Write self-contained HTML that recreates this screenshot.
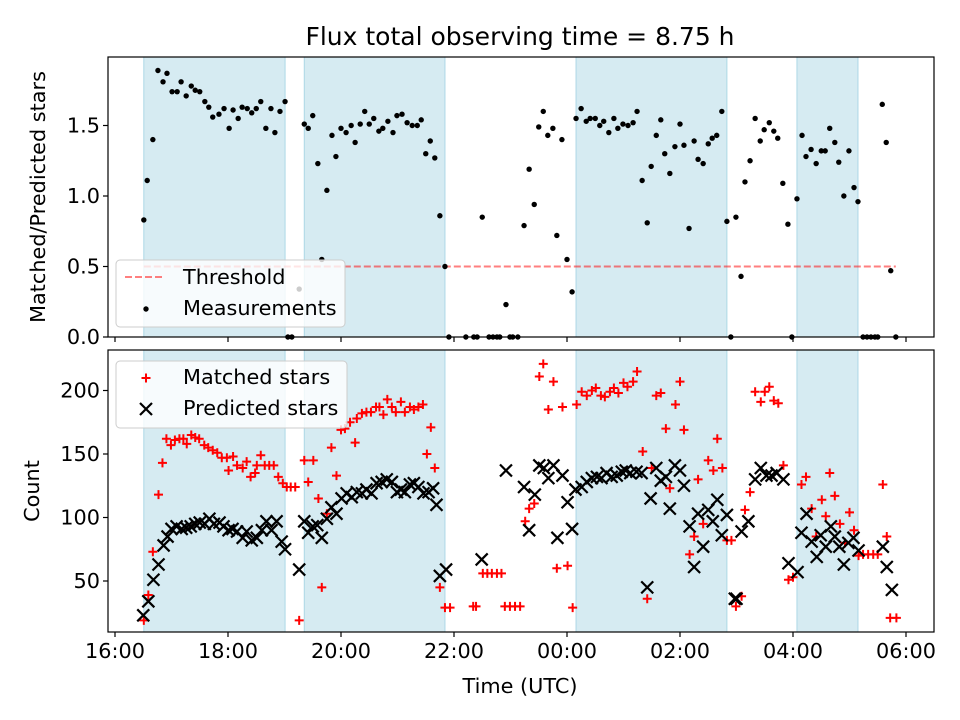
<!DOCTYPE html>
<html><head><meta charset="utf-8"><style>
html,body{margin:0;padding:0;background:#fff}
svg{display:block;font-family:"DejaVu Sans","Liberation Sans",sans-serif}
</style></head><body>
<svg id="chart" width="960" height="720" viewBox="0 0 960 720">
<rect width="960" height="720" fill="#fff"/>
<g id="topPanel"></g>
<g id="botPanel"></g>
<text x="520" y="45" font-size="25" text-anchor="middle">Flux total observing time = 8.75 h</text>
<text x="520" y="693" font-size="20.8" text-anchor="middle">Time (UTC)</text>
<text transform="translate(45,197) rotate(-90)" font-size="20.8" text-anchor="middle">Matched/Predicted stars</text>
<text transform="translate(39,491) rotate(-90)" font-size="20.8" text-anchor="middle">Count</text>
</svg>
<script>
// hours since 16:00 UTC
const spanStart = [0.51, 3.35, 8.16, 12.07];
const spanEnd = [3.01, 5.84, 10.83, 13.15];
const xTickHours = [0, 2, 4, 6, 8, 10, 12, 14];
const xTickLabels = ["16:00","18:00","20:00","22:00","00:00","02:00","04:00","06:00"];
const ratioTicks = [0.0, 0.5, 1.0, 1.5];
const ratioTickLabels = ["0.0","0.5","1.0","1.5"];
const countTicks = [50, 100, 150, 200];
const threshold = 0.5;
const thresholdStart = 0.51, thresholdEnd = 13.82;
const ratioT = [.51,.57,.67,.76,.85,.92,1.01,1.10,1.17,1.26,1.35,1.42,1.50,1.59,1.66,1.73,1.84,1.93,2.02,2.09,2.18,2.25,2.34,2.42,2.50,2.58,2.67,2.76,2.83,2.92,3.01,3.06,3.13,3.26,3.35,3.42,3.50,3.59,3.66,3.75,3.84,3.91,4.00,4.09,4.18,4.25,4.34,4.42,4.50,4.58,4.67,4.74,4.83,4.92,4.99,5.08,5.17,5.26,5.35,5.42,5.50,5.58,5.66,5.75,5.84,5.91,6.21,6.35,6.41,6.50,6.62,6.69,6.76,6.81,6.92,6.99,7.04,7.13,7.24,7.33,7.42,7.50,7.58,7.66,7.75,7.82,7.91,8.00,8.09,8.16,8.25,8.34,8.41,8.50,8.58,8.65,8.74,8.83,8.90,8.99,9.08,9.17,9.24,9.33,9.42,9.49,9.58,9.66,9.73,9.82,9.91,10.00,10.07,10.16,10.25,10.32,10.41,10.50,10.57,10.65,10.74,10.83,10.90,10.99,11.08,11.15,11.24,11.33,11.42,11.49,11.58,11.66,11.73,11.82,11.91,11.98,12.07,12.16,12.23,12.32,12.41,12.50,12.57,12.65,12.74,12.81,12.90,12.99,13.08,13.15,13.24,13.31,13.38,13.45,13.50,13.58,13.65,13.73,13.82];
const ratioV = [.83,1.11,1.40,1.89,1.81,1.87,1.74,1.74,1.81,1.71,1.78,1.75,1.74,1.67,1.63,1.56,1.58,1.62,1.48,1.61,1.55,1.63,1.62,1.59,1.62,1.67,1.48,1.62,1.45,1.60,1.67,0,0,.34,1.51,1.48,1.57,1.23,.55,1.04,1.43,1.28,1.48,1.45,1.50,1.38,1.51,1.60,1.51,1.55,1.46,1.48,1.53,1.45,1.57,1.58,1.52,1.50,1.50,1.54,1.30,1.39,1.27,.86,.50,0,0,0,0,.85,0,0,0,0,.23,0,0,0,.79,1.19,.94,1.49,1.60,1.43,1.48,.72,1.40,.55,.32,1.55,1.62,1.53,1.55,1.55,1.50,1.53,1.45,1.55,1.48,1.51,1.50,1.52,1.60,1.11,.81,1.21,1.43,1.54,1.30,1.16,1.35,1.51,1.36,.77,1.39,1.26,1.23,1.37,1.41,1.43,1.60,.82,0,.85,.43,1.10,1.25,1.55,1.39,1.47,1.52,1.46,1.41,1.09,.80,0,.98,1.43,1.28,1.33,1.23,1.32,1.32,1.48,1.38,1.24,1.00,1.32,1.06,.96,0,0,0,0,0,1.65,1.38,.47,0];
const matchedT = [.51,.59,.67,.77,.84,.91,.99,1.06,1.14,1.21,1.27,1.35,1.42,1.49,1.58,1.65,1.73,1.81,1.89,1.98,2.01,2.09,2.16,2.26,2.33,2.40,2.48,2.51,2.58,2.65,2.73,2.81,2.89,2.97,3.04,3.11,3.19,3.26,3.35,3.42,3.51,3.60,3.66,3.75,3.83,3.92,4.00,4.07,4.16,4.25,4.28,4.37,4.45,4.53,4.62,4.68,4.75,4.82,4.90,4.97,5.06,5.13,5.22,5.29,5.37,5.45,5.52,5.59,5.66,5.75,5.84,5.93,6.34,6.39,6.51,6.59,6.67,6.76,6.84,6.90,6.99,7.08,7.17,7.26,7.33,7.42,7.51,7.58,7.67,7.76,7.82,7.92,8.01,8.10,8.17,8.26,8.35,8.44,8.51,8.60,8.67,8.76,8.83,8.91,9.00,9.07,9.17,9.24,9.34,9.42,9.50,9.58,9.66,9.75,9.82,9.92,10.00,10.07,10.17,10.25,10.32,10.41,10.50,10.59,10.66,10.75,10.83,10.91,10.99,11.09,11.15,11.24,11.33,11.43,11.50,11.58,11.66,11.74,11.83,11.92,12.00,12.15,12.23,12.33,12.41,12.51,12.58,12.65,12.74,12.83,12.92,13.00,13.08,13.16,13.24,13.33,13.42,13.50,13.59,13.66,13.72,13.83];
const matchedV = [19,39,73,118,143,162,157,161,162,162,158,165,163,162,157,155,153,151,147,147,137,148,141,139,144,132,135,141,149,141,141,141,132,127,124,124,124,19,145,128,145,115,45,103,155,133,169,170,175,159,178,182,183,183,187,187,181,193,187,183,191,183,187,185,187,189,150,171,139,45,29,29,30,30,56,56,56,56,56,30,30,30,30,97,107,111,211,221,185,207,60,187,62,29,189,199,196,200,202,196,195,199,202,198,206,203,207,215,152,36,139,196,198,170,123,189,207,169,71,85,130,95,145,137,162,139,82,82,30,38,106,120,199,191,199,203,192,190,141,51,53,126,132,107,85,114,101,135,117,95,80,104,90,70,71,71,71,71,126,85,21,21];
const predT = [.50,.59,.68,.77,.86,.93,1.00,1.09,1.18,1.26,1.34,1.42,1.50,1.59,1.67,1.75,1.85,1.92,2.01,2.08,2.16,2.26,2.33,2.42,2.51,2.60,2.68,2.77,2.86,2.95,3.01,3.26,3.35,3.42,3.50,3.58,3.66,3.75,3.83,3.92,4.01,4.10,4.19,4.28,4.37,4.45,4.54,4.63,4.72,4.81,4.90,4.99,5.06,5.13,5.22,5.29,5.37,5.46,5.55,5.63,5.69,5.75,5.86,6.49,6.92,7.24,7.33,7.43,7.51,7.59,7.67,7.76,7.83,7.92,8.01,8.09,8.15,8.26,8.35,8.44,8.53,8.61,8.70,8.79,8.88,8.97,9.04,9.12,9.23,9.32,9.42,9.48,9.58,9.66,9.75,9.82,9.91,10.00,10.07,10.17,10.25,10.32,10.41,10.50,10.58,10.66,10.74,10.83,10.97,11.00,11.09,11.21,11.33,11.43,11.53,11.62,11.71,11.83,11.92,12.08,12.15,12.24,12.33,12.42,12.49,12.58,12.67,12.74,12.82,12.90,12.98,13.07,13.16,13.59,13.66,13.75];
const predV = [23,34,51,63,78,85,91,93,91,92,93,95,96,95,99,95,96,93,90,91,89,84,89,82,84,90,97,90,97,81,75,59,97,88,93,94,84,99,108,103,115,119,116,120,119,122,119,127,128,130,128,120,122,120,126,127,124,119,120,123,110,54,59,67,137,124,90,118,141,139,131,141,84,133,112,91,122,124,128,131,132,131,135,132,133,136,137,135,136,135,45,115,139,129,132,107,141,137,125,93,61,103,77,106,97,114,86,102,36,36,89,97,130,139,133,133,135,130,64,57,88,103,81,69,86,77,93,85,77,63,80,84,74,77,61,43];

const NS = "http://www.w3.org/2000/svg";
const L = 108, R = 934;
const FS = 20.8;
const xs = h => 115 + h * 56.5;
const yTop = r => 337 - r * 141;
const yBot = c => 581 - (c - 50) * 1.27;
function mk(parent, tag, attrs){ const e = document.createElementNS(NS, tag); for (const k in attrs) e.setAttribute(k, attrs[k]); parent.appendChild(e); return e; }

function panel(g, y0, y1, prefix){
  for (let i = 0; i < spanStart.length; i++){
    const s = mk(g, 'rect', {x: xs(spanStart[i]), y: y0, width: xs(spanEnd[i]) - xs(spanStart[i]), height: y1 - y0, fill: '#add8e6', 'fill-opacity': 0.5, stroke: '#add8e6', 'stroke-width': 1});
    
    
  }
}
function frame(g, y0, y1, withLabels, prefix){
  const f = mk(g, 'rect', {x: L, y: y0, width: R - L, height: y1 - y0, fill: 'none', stroke: '#000', 'stroke-width': 1.2});
  
  
  for (let i = 0; i < xTickHours.length; i++){
    const x = xs(xTickHours[i]);
    const t = mk(g, 'line', {x1: x, x2: x, y1: y1, y2: y1 + 5, stroke: '#000', 'stroke-width': 1.2});
    
    
    if (withLabels){
      const tx = mk(g, 'text', {x: x, y: y1 + 26, 'font-size': FS, 'text-anchor': 'middle'});
      tx.textContent = xTickLabels[i];
      
      
    }
  }
}
function yTicks(g, vals, labels, fy, prefix){
  for (let i = 0; i < vals.length; i++){
    const y = fy(vals[i]);
    const t = mk(g, 'line', {x1: L - 5, x2: L, y1: y, y2: y, stroke: '#000', 'stroke-width': 1.2});
    
    
    const tx = mk(g, 'text', {x: L - 8, y: y + 7, 'font-size': FS, 'text-anchor': 'end'});
    tx.textContent = labels[i];
    
    
  }
}
function plus(g, x, y){ return mk(g, 'path', {d: `M${x-4.5} ${y}H${x+4.5}M${x} ${y-4.5}V${y+4.5}`, stroke: '#f00', 'stroke-width': 2, fill: 'none'}); }
function cross(g, x, y){ return mk(g, 'path', {d: `M${x-6} ${y-6}L${x+6} ${y+6}M${x-6} ${y+6}L${x+6} ${y-6}`, stroke: '#000', 'stroke-width': 2.2, fill: 'none'}); }

// top panel
const topG = document.getElementById('topPanel');
panel(topG, 57, 337, 'top');
const th = mk(topG, 'line', {x1: xs(thresholdStart), x2: xs(thresholdEnd), y1: yTop(threshold), y2: yTop(threshold), stroke: '#f00', 'stroke-opacity': 0.5, 'stroke-width': 2, 'stroke-dasharray': '7,3'});


for (let i = 0; i < ratioT.length; i++){
  const c = mk(topG, 'circle', {cx: xs(ratioT[i]), cy: yTop(ratioV[i]), r: 2.7, fill: '#000'});
  
  
}
frame(topG, 57, 337, false, 'top');
yTicks(topG, ratioTicks, ratioTickLabels, yTop, 'top');
const lg1 = mk(topG, 'g', {});


mk(lg1, 'rect', {x: 116, y: 260, width: 229, height: 67, rx: 4, fill: '#fff', 'fill-opacity': 0.8, stroke: '#ccc'});
const ll = mk(lg1, 'line', {x1: 125, x2: 165, y1: 277, y2: 277, stroke: '#f00', 'stroke-opacity': 0.5, 'stroke-width': 2, 'stroke-dasharray': '7,3'});


const lt1 = mk(lg1, 'text', {x: 183, y: 284, 'font-size': FS}); lt1.textContent = 'Threshold';


const ld = mk(lg1, 'circle', {cx: 146, cy: 309, r: 2.7, fill: '#000'});


const lt2 = mk(lg1, 'text', {x: 183, y: 315, 'font-size': FS}); lt2.textContent = 'Measurements';



// bottom panel
const botG = document.getElementById('botPanel');
panel(botG, 350, 632, 'bottom');
for (let i = 0; i < matchedT.length; i++){
  const p = plus(botG, xs(matchedT[i]), yBot(matchedV[i]));
  
  
}
for (let i = 0; i < predT.length; i++){
  const p = cross(botG, xs(predT[i]), yBot(predV[i]));
  
  
}
frame(botG, 350, 632, true, 'bottom');
yTicks(botG, countTicks, countTicks.map(String), yBot, 'bottom');
const lg2 = mk(botG, 'g', {});


mk(lg2, 'rect', {x: 116, y: 361, width: 231, height: 67, rx: 4, fill: '#fff', 'fill-opacity': 0.8, stroke: '#ccc'});
const lp = plus(lg2, 146, 378);


const lt3 = mk(lg2, 'text', {x: 183, y: 384, 'font-size': FS}); lt3.textContent = 'Matched stars';


const lx = cross(lg2, 146, 409);


const lt4 = mk(lg2, 'text', {x: 183, y: 415, 'font-size': FS}); lt4.textContent = 'Predicted stars';


</script>
</body></html>
